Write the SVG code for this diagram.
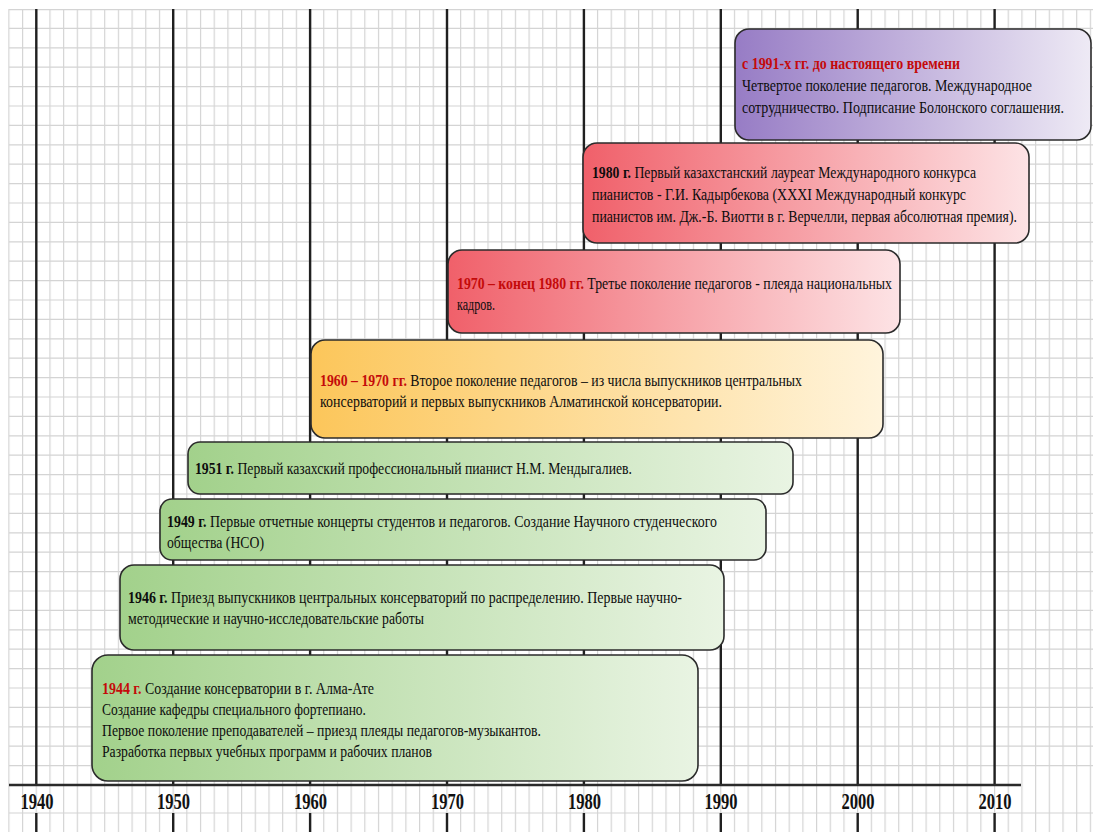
<svg xmlns="http://www.w3.org/2000/svg" width="1093" height="832" viewBox="0 0 1093 832">
<style>
.t{font-family:"Liberation Serif","Times New Roman",serif;font-size:17.5px;fill:#0d0d0d}
.b{font-weight:bold}
.r{font-weight:bold;fill:#c40a0a}
.yr{font-family:"Liberation Serif","Times New Roman",serif;font-weight:bold;font-size:23px;fill:#111;text-anchor:middle}
.box{stroke:#2b2b2b;stroke-width:1.6}
.thick{stroke:#202020;stroke-width:2.4;fill:none}
</style>
<defs>
<pattern id="vg" patternUnits="userSpaceOnUse" x="8.3" y="0" width="13.69" height="20">
<rect x="0" y="0" width="1.2" height="20" fill="#d4d4d4"/>
</pattern>
<linearGradient id="gGreen" x1="0" y1="0" x2="1" y2="0"><stop offset="0" stop-color="#a2d18b"/><stop offset="1" stop-color="#e9f4e3"/></linearGradient>
<linearGradient id="gYellow" x1="0" y1="0" x2="1" y2="0"><stop offset="0" stop-color="#fcc65a"/><stop offset="1" stop-color="#fff4dc"/></linearGradient>
<linearGradient id="gRed" x1="0" y1="0" x2="1" y2="0"><stop offset="0" stop-color="#f0606a"/><stop offset="1" stop-color="#fde3e5"/></linearGradient>
<linearGradient id="gPurple" x1="0" y1="0" x2="1" y2="0"><stop offset="0" stop-color="#977cc5"/><stop offset="1" stop-color="#eeeaf5"/></linearGradient>
</defs>
<rect x="0" y="0" width="1093" height="832" fill="#ffffff"/>
<g id="grid">
<rect x="8" y="9" width="1085" height="823" fill="url(#vg)"/>
<path stroke="#d4d4d4" stroke-width="1.2" fill="none" d="M9 9.6H1093M9 28.4H1093M9 47.8H1093M9 67.2H1093M9 86.6H1093M9 106H1093M9 125.4H1093M9 144.8H1093M9 164.2H1093M9 183.6H1093M9 203H1093M9 222.4H1093M9 241.8H1093M9 261.2H1093M9 280.6H1093M9 300H1093M9 319.4H1093M9 338.8H1093M9 358.2H1093M9 377.6H1093M9 397H1093M9 416.4H1093M9 435.8H1093M9 455.2H1093M9 474.6H1093M9 494H1093M9 513.4H1093M9 532.8H1093M9 552.2H1093M9 571.6H1093M9 591H1093M9 610.4H1093M9 629.8H1093M9 649.2H1093M9 668.6H1093M9 688H1093M9 707.4H1093M9 726.8H1093M9 746.2H1093M9 765.6H1093M9 813H1093"/>
</g>
<g id="timeline">
<path class="thick" d="M36.3 9V785M173.2 9V785M310.1 9V785M447 9V785M583.9 9V785M720.8 9V785M857.7 9V785M994.6 9V785M36.3 813V832M173.2 813V832M310.1 813V832M447 813V832M583.9 813V832M720.8 813V832M857.7 813V832M994.6 813V832"/>
<path d="M9 785H1021" stroke="#2a2a2a" stroke-width="2.4" fill="none"/>
<text class="yr" x="37" y="809" textLength="33" lengthAdjust="spacingAndGlyphs">1940</text>
<text class="yr" x="173.5" y="809" textLength="33" lengthAdjust="spacingAndGlyphs">1950</text>
<text class="yr" x="310.5" y="809" textLength="33" lengthAdjust="spacingAndGlyphs">1960</text>
<text class="yr" x="447.5" y="809" textLength="33" lengthAdjust="spacingAndGlyphs">1970</text>
<text class="yr" x="584.5" y="809" textLength="33" lengthAdjust="spacingAndGlyphs">1980</text>
<text class="yr" x="721" y="809" textLength="33" lengthAdjust="spacingAndGlyphs">1990</text>
<text class="yr" x="858" y="809" textLength="33" lengthAdjust="spacingAndGlyphs">2000</text>
<text class="yr" x="995" y="809" textLength="33" lengthAdjust="spacingAndGlyphs">2010</text>
</g>
<g id="connectors"></g>
<g id="node-1991">
<rect class="box" x="735" y="29" width="356" height="111" rx="14" fill="url(#gPurple)"/>
<text class="t r" x="742" y="69" textLength="218" lengthAdjust="spacingAndGlyphs">с 1991-х гг. до настоящего времени</text>
<text class="t" x="742" y="91" textLength="290" lengthAdjust="spacingAndGlyphs">Четвертое поколение педагогов. Международное</text>
<text class="t" x="742" y="113" textLength="322" lengthAdjust="spacingAndGlyphs">сотрудничество. Подписание Болонского соглашения.</text>
</g>
<g id="node-1980">
<rect class="box" x="583" y="143" width="446" height="100" rx="14" fill="url(#gRed)"/>
<text class="t" x="592" y="178" textLength="384" lengthAdjust="spacingAndGlyphs"><tspan class="b">1980 г.</tspan> Первый казахстанский лауреат Международного конкурса</text>
<text class="t" x="592" y="200" textLength="374" lengthAdjust="spacingAndGlyphs">пианистов - Г.И. Кадырбекова (XXXI Международный конкурс</text>
<text class="t" x="592" y="222" textLength="425" lengthAdjust="spacingAndGlyphs">пианистов им. Дж.-Б. Виотти в г. Верчелли, первая абсолютная премия).</text>
</g>
<g id="node-1970">
<rect class="box" x="448" y="250" width="452" height="83" rx="14" fill="url(#gRed)"/>
<text class="t" x="457" y="289" textLength="435" lengthAdjust="spacingAndGlyphs"><tspan class="r">1970 – конец 1980 гг.</tspan> Третье поколение педагогов - плеяда национальных</text>
<text class="t" x="457" y="310" textLength="38" lengthAdjust="spacingAndGlyphs">кадров.</text>
</g>
<g id="node-1960">
<rect class="box" x="311" y="340" width="572" height="98" rx="14" fill="url(#gYellow)"/>
<text class="t" x="320" y="386" textLength="482" lengthAdjust="spacingAndGlyphs"><tspan class="r">1960 – 1970 гг.</tspan> Второе поколение педагогов – из числа выпускников центральных</text>
<text class="t" x="320" y="407" textLength="402" lengthAdjust="spacingAndGlyphs">консерваторий и первых выпускников Алматинской консерватории.</text>
</g>
<g id="node-1951">
<rect class="box" x="188" y="442" width="605" height="52" rx="12" fill="url(#gGreen)"/>
<text class="t" x="195" y="474" textLength="437" lengthAdjust="spacingAndGlyphs"><tspan class="b">1951 г.</tspan> Первый казахский профессиональный пианист Н.М. Мендыгалиев.</text>
</g>
<g id="node-1949">
<rect class="box" x="160" y="499" width="606" height="61" rx="12" fill="url(#gGreen)"/>
<text class="t" x="167" y="527" textLength="550" lengthAdjust="spacingAndGlyphs"><tspan class="b">1949 г.</tspan> Первые отчетные концерты студентов и педагогов. Создание Научного студенческого</text>
<text class="t" x="167" y="548" textLength="97" lengthAdjust="spacingAndGlyphs">общества (НСО)</text>
</g>
<g id="node-1946">
<rect class="box" x="120" y="565" width="604" height="85" rx="14" fill="url(#gGreen)"/>
<text class="t" x="128" y="603" textLength="554" lengthAdjust="spacingAndGlyphs"><tspan class="b">1946 г.</tspan> Приезд выпускников центральных консерваторий по распределению. Первые научно-</text>
<text class="t" x="128" y="624" textLength="296" lengthAdjust="spacingAndGlyphs">методические и научно-исследовательские работы</text>
</g>
<g id="node-1944">
<rect class="box" x="92" y="655" width="606" height="126" rx="16" fill="url(#gGreen)"/>
<text class="t" x="102" y="694" textLength="272" lengthAdjust="spacingAndGlyphs"><tspan class="r">1944 г.</tspan> Создание консерватории в г. Алма-Ате</text>
<text class="t" x="102" y="715" textLength="264" lengthAdjust="spacingAndGlyphs">Создание кафедры специального фортепиано.</text>
<text class="t" x="102" y="736" textLength="439" lengthAdjust="spacingAndGlyphs">Первое поколение преподавателей – приезд плеяды педагогов-музыкантов.</text>
<text class="t" x="102" y="757" textLength="330" lengthAdjust="spacingAndGlyphs">Разработка первых учебных программ и рабочих планов</text>
</g>
</svg>
